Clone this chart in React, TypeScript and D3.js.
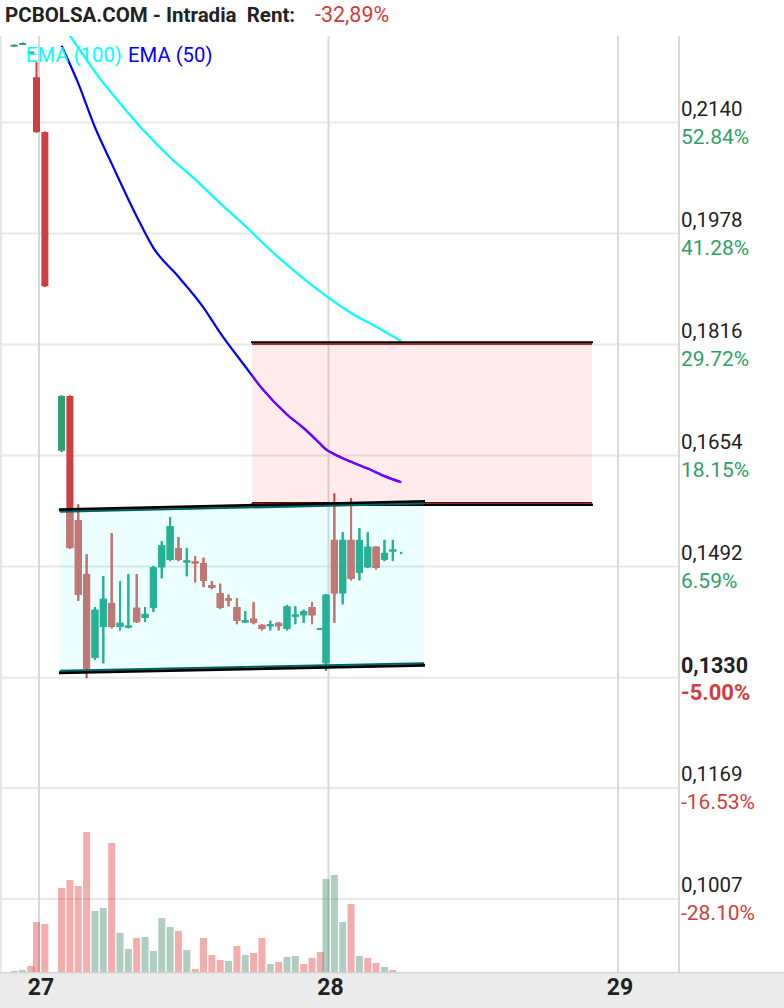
import React from "react";
import * as d3 from "d3";

// ---------- data ----------
const candleDay = [26, 26, 26,
  27, 27, 27, 27, 27, 27, 27, 27, 27, 27, 27, 27, 27, 27, 27, 27, 27, 27, 27, 27, 27, 27, 27, 27, 27, 27, 27, 27, 27, 27, 27, 27, 27, 27,
  28, 28, 28, 28, 28, 28, 28, 28, 28, 28];
const candleSlot = [32, 33, 34,
  0, 1, 3, 4, 5, 6, 7, 8, 9, 10, 11, 12, 13, 14, 15, 16, 17, 18, 19, 20, 21, 22, 23, 24, 25, 26, 27, 28, 29, 30, 31, 32, 33, 34,
  0, 1, 2, 3, 4, 5, 6, 7, 8, 9];
const opens = [0.2252, 0.2254, 0.2242,
  0.2206, 0.2126, 0.1661, 0.1741, 0.1560, 0.1481, 0.1359, 0.1404, 0.1439, 0.1404, 0.1404, 0.1432, 0.1417, 0.1432, 0.1491, 0.1502, 0.1519, 0.1499, 0.1499, 0.1497, 0.1465, 0.1453, 0.1445, 0.1433, 0.1411, 0.1416, 0.1407, 0.1405, 0.1410, 0.1401, 0.1420, 0.1421, 0.1433, 0.1401,
  0.1351, 0.1531, 0.1453, 0.1531, 0.1483, 0.1491, 0.1521, 0.1502, 0.1515, 0.1512];
const highs = [0.2254, 0.2257, 0.2243,
  0.2228, 0.2127, 0.1742, 0.1742, 0.1583, 0.1510, 0.1433, 0.1478, 0.1541, 0.1471, 0.1481, 0.1481, 0.1433, 0.1493, 0.1529, 0.1564, 0.1535, 0.1519, 0.1507, 0.1505, 0.1471, 0.1467, 0.1451, 0.1446, 0.1427, 0.1440, 0.1408, 0.1413, 0.1411, 0.1436, 0.1434, 0.1429, 0.1440, 0.1402,
  0.1452, 0.1599, 0.1542, 0.1592, 0.1548, 0.1542, 0.1522, 0.1531, 0.1531, 0.1512];
const lows = [0.2251, 0.2253, 0.2241,
  0.2125, 0.1900, 0.1659, 0.1518, 0.1442, 0.1329, 0.1356, 0.1351, 0.1402, 0.1399, 0.1402, 0.1410, 0.1411, 0.1426, 0.1475, 0.1500, 0.1500, 0.1478, 0.1469, 0.1462, 0.1459, 0.1430, 0.1434, 0.1408, 0.1410, 0.1408, 0.1399, 0.1399, 0.1399, 0.1399, 0.1408, 0.1410, 0.1408, 0.1400,
  0.1340, 0.1410, 0.1437, 0.1472, 0.1472, 0.1490, 0.1488, 0.1500, 0.1500, 0.1512];
const closes = [0.2252, 0.2255, 0.2242,
  0.2126, 0.1901, 0.1741, 0.1519, 0.1451, 0.1343, 0.1429, 0.1445, 0.1404, 0.1410, 0.1405, 0.1411, 0.1423, 0.1491, 0.1523, 0.1551, 0.1502, 0.1500, 0.1497, 0.1471, 0.1461, 0.1432, 0.1443, 0.1413, 0.1413, 0.1410, 0.1401, 0.1408, 0.1405, 0.1434, 0.1421, 0.1427, 0.1421, 0.1401,
  0.1451, 0.1453, 0.1531, 0.1474, 0.1531, 0.1521, 0.1490, 0.1512, 0.1516, 0.1512];
const volumes = [1, 2, 6,
  50, 48, 84, 92, 86, 140, 61, 64, 129, 39, 23, 34, 35, 21, 54, 45, 41, 22, 3, 34, 17, 12, 11, 26, 17, 19, 34, 8, 10, 15, 16, 8, 14, 20,
  93, 97, 50, 68, 16, 14, 9, 5, 2, 0];
const volumeUp = [0, 1, 0,
  0, 0, 0, 0, 0, 0, 1, 1, 0, 1, 1, 0, 1, 1, 1, 1, 0, 1, 0, 0, 0, 0, 1, 0, 1, 0, 0, 1, 0, 1, 1, 0, 0, 0,
  1, 1, 1, 0, 1, 0, 0, 1, 0, 1];

const ema50Day = [27, 27, 27, 27, 27, 27, 27, 27, 27, 27, 27, 27, 27, 27, 28, 28, 28, 28, 28, 28];
const ema50Slot = [3, 5, 7, 9, 12, 14, 17, 20, 22, 25, 27, 30, 32, 34, 0, 1, 3, 5, 7, 9];
const ema50Values = [0.2252, 0.2197, 0.2133, 0.2080, 0.2003, 0.1957, 0.1915, 0.1870, 0.1833, 0.1784, 0.1752, 0.1714, 0.1694, 0.1671, 0.1663, 0.1656, 0.1645, 0.1635, 0.1624, 0.1615];
const ema100Day = [27, 27, 27, 27, 27, 27, 27, 27, 27, 27, 27, 28, 28, 28, 28];
const ema100Slot = [3, 5, 7, 10, 13, 16, 19, 22, 25, 28, 31, 0, 3, 6, 9];
const ema100Values = [0.2284, 0.2249, 0.2214, 0.2168, 0.2126, 0.2089, 0.2057, 0.2022, 0.1989, 0.1954, 0.1922, 0.1887, 0.1862, 0.1842, 0.1821];

const priceTicks = [0.2140, 0.1978, 0.1816, 0.1654, 0.1492, 0.1330, 0.1169, 0.1007];
const priceTickLabels = ["0,2140", "0,1978", "0,1816", "0,1654", "0,1492", "0,1330", "0,1169", "0,1007"];
const pctTickLabels = ["52.84%", "41.28%", "29.72%", "18.15%", "6.59%", "-5.00%", "-16.53%", "-28.10%"];
const currentPrice = 0.1330;
const dayTicks = [27, 28, 29];
const dayLabels = ["27", "28", "29"];

// drawn channel (cyan) and zone (pink): time in days, prices
const channelTime = [27.0725, 28.3299];
const channelTop = [0.1572, 0.1584];
const channelBottom = [0.1340, 0.1351];
const zoneTime = [27.7358, 28.910];
const zonePrice = [0.1818, 0.1584];

const titleText = "PCBOLSA.COM - Intradia  Rent:";
const rentText = "-32,89%";

// ---------- layout ----------
const W = 784, H = 1008;
const plotL = 2, plotR = 678, plotT = 36, plotB = 972;
const SLOT_DAYS = 0.02884;
const DAY_OFFSET = -0.0086;

const RED = "#cd4040", GREEN = "#2ca06e";
const RED_IN = "#bf7876", GREEN_IN = "#23b296";

export default function App() {
  const x = d3.scaleLinear().domain([27, 29]).range([39, 618]);
  const y = d3.scaleLinear().domain([0.1007, 0.2140]).range([899, 122.5]);
  const yv = d3.scaleLinear().domain([0, d3.max(volumes) as number]).range([plotB, plotB - 140]);
  const tOf = (d: number, s: number) => d + DAY_OFFSET + s * SLOT_DAYS;

  const candles = candleDay.map((d, i) => ({
    cx: x(tOf(d, candleSlot[i])), o: opens[i], h: highs[i], l: lows[i], c: closes[i],
    v: volumes[i], vu: volumeUp[i] === 1,
  }));

  const renderCandles = (up: string, down: string) =>
    candles.map((k, i) => {
      const col = k.c >= k.o ? up : down;
      if (k.h === k.l) {
        return <rect key={i} x={k.cx - 1} y={y(k.h) - 1} width={2} height={2} fill={col} />;
      }
      const yt = y(Math.max(k.o, k.c));
      const yb = y(Math.min(k.o, k.c));
      const bh = Math.max(2, yb - yt);
      const bm = (yt + yb) / 2;
      return (
        <g key={i}>
          <rect x={k.cx - 1} y={y(k.h)} width={2} height={Math.max(1, y(k.l) - y(k.h))} fill={col} />
          <rect x={k.cx - 3.5} y={bm - bh / 2} width={7} height={bh} fill={col} />
        </g>
      );
    });

  const line = d3.line<[number, number]>().x((p) => p[0]).y((p) => p[1]).curve(d3.curveMonotoneX);
  const ema50Pts: [number, number][] = ema50Values.map((v, i) => [x(tOf(ema50Day[i], ema50Slot[i])), y(v)]);
  const ema100Pts: [number, number][] = ema100Values.map((v, i) => [x(tOf(ema100Day[i], ema100Slot[i])), y(v)]);

  const cx0 = x(channelTime[0]), cx1 = x(channelTime[1]);
  const ct0 = y(channelTop[0]), ct1 = y(channelTop[1]);
  const cb0 = y(channelBottom[0]), cb1 = y(channelBottom[1]);
  const bandPoly = `${cx0},${ct0} ${cx1},${ct1} ${cx1},${cb1} ${cx0},${cb0}`;

  const zx0 = x(zoneTime[0]), zx1 = x(zoneTime[1]);
  const zy0 = y(zonePrice[0]), zy1 = y(zonePrice[1]);

  return (
    <svg width={W} height={H} style={{ position: "absolute", left: 0, top: 0, display: "block", background: "#fff" }}
      fontFamily="Roboto, 'Noto Sans', sans-serif">
      <defs>
        <clipPath id="plotClip"><rect x={plotL} y={plotT} width={plotR - plotL} height={plotB - plotT} /></clipPath>
        <clipPath id="bandClip"><polygon points={bandPoly} /></clipPath>
        <clipPath id="zoneClip"><rect x={zx0} y={zy0} width={zx1 - zx0} height={zy1 - zy0} /></clipPath>
      </defs>

      {/* header */}
      <text x={5} y={22} fontSize={20.5} fontWeight="bold" fill="#222" style={{ whiteSpace: "pre" }}>{titleText}</text>
      <text x={315} y={22} fontSize={21.5} fill="#d23c3c">{rentText}</text>

      {/* grid */}
      {priceTicks.map((p, i) => (
        <line key={i} x1={plotL} x2={plotR} y1={y(p)} y2={y(p)} stroke="#e8e8e8" strokeWidth={2} />
      ))}
      {dayTicks.map((d, i) => (
        <line key={i} x1={x(d)} x2={x(d)} y1={plotT} y2={plotB} stroke="#d9d9d9" strokeWidth={2} />
      ))}
      <line x1={1} x2={1} y1={plotT} y2={plotB} stroke="#e6e6e6" strokeWidth={2} />
      <line x1={679} x2={679} y1={plotT} y2={plotB} stroke="#d9d9d9" strokeWidth={2} />

      <g clipPath="url(#plotClip)">
        {/* zone fill */}
        <rect x={zx0} y={zy0} width={zx1 - zx0} height={zy1 - zy0} fill="#ff0000" fillOpacity={0.08} />
        {/* channel fill */}
        <polygon points={bandPoly} fill="#00ffff" fillOpacity={0.075} />

        {/* volume */}
        {candles.map((k, i) => (
          <rect key={i} x={k.cx - 3.5} y={yv(k.v)} width={7} height={plotB - yv(k.v)}
            fill={k.vu ? "rgb(58,132,98)" : "rgb(225,50,50)"} fillOpacity={0.4} />
        ))}

        {/* candles */}
        <g>{renderCandles(GREEN, RED)}</g>
        <g clipPath="url(#bandClip)">{renderCandles(GREEN_IN, RED_IN)}</g>

        {/* EMAs */}
        <path d={line(ema100Pts) as string} fill="none" stroke="#00ffff" strokeWidth={2.2} />
        <path d={line(ema50Pts) as string} fill="none" stroke="#0000ff" strokeWidth={2.2} />
        <g clipPath="url(#zoneClip)">
          <path d={line(ema50Pts) as string} fill="none" stroke="#7800ff" strokeWidth={2.2} />
        </g>

        {/* zone borders */}
        <line x1={zx0 - 1} x2={zx1 + 1} y1={zy0 - 1} y2={zy0 - 1} stroke="#000" strokeWidth={2} />
        <line x1={zx0} x2={zx1} y1={zy0 + 0.7} y2={zy0 + 0.7} stroke="#7a0000" strokeWidth={1.5} />
        <line x1={zx0} x2={zx1} y1={zy1 - 0.7} y2={zy1 - 0.7} stroke="#7a0000" strokeWidth={1.5} />
        <line x1={zx0 - 1} x2={zx1 + 1} y1={zy1 + 1.2} y2={zy1 + 1.2} stroke="#000" strokeWidth={2.4} />

        {/* channel borders */}
        <line x1={cx0 - 1} x2={cx1 + 1} y1={ct0 - 2} y2={ct1 - 2} stroke="#000" strokeWidth={3} />
        <line x1={cx0 - 1} x2={cx1 + 1} y1={cb0 + 2} y2={cb1 + 2} stroke="#000" strokeWidth={3} />
        <line x1={cx0} x2={cx1} y1={ct0} y2={ct1} stroke="#006262" strokeWidth={2} />
        <line x1={cx0} x2={cx1} y1={cb0} y2={cb1} stroke="#006262" strokeWidth={2} />
      </g>

      {/* legend */}
      <text x={26} y={62} fontSize={20.3} fill="#00ffff">EMA (100)</text>
      <text x={128} y={62} fontSize={20.3} fill="#0000ff">EMA (50)</text>

      {/* right axis */}
      {priceTicks.map((p, i) => {
        const bold = p === currentPrice;
        return (
          <g key={i}>
            <text x={681} y={y(p) - (bold ? 5 : 7)} fontSize={bold ? 21.5 : 20.5} fontWeight={bold ? "bold" : "normal"} fill="#222">
              {priceTickLabels[i]}
            </text>
            <text x={681} y={y(p) + (bold ? 22 : 21)} fontSize={bold ? 22 : 21} fontWeight={bold ? "bold" : "normal"}
              fill={pctTickLabels[i].startsWith("-") ? "#d23c3c" : "#2e9f6e"}>
              {pctTickLabels[i]}
            </text>
          </g>
        );
      })}

      {/* bottom axis */}
      <rect x={0} y={plotB} width={W} height={H - plotB} fill="#ebebeb" />
      <line x1={0} x2={W} y1={plotB + 0.75} y2={plotB + 0.75} stroke="#d6d6d6" strokeWidth={1.5} />
      {dayTicks.map((d, i) => (
        <text key={i} x={x(d) + 2} y={995} fontSize={23} fontWeight="bold" fill="#222" textAnchor="middle">{dayLabels[i]}</text>
      ))}
    </svg>
  );
}
